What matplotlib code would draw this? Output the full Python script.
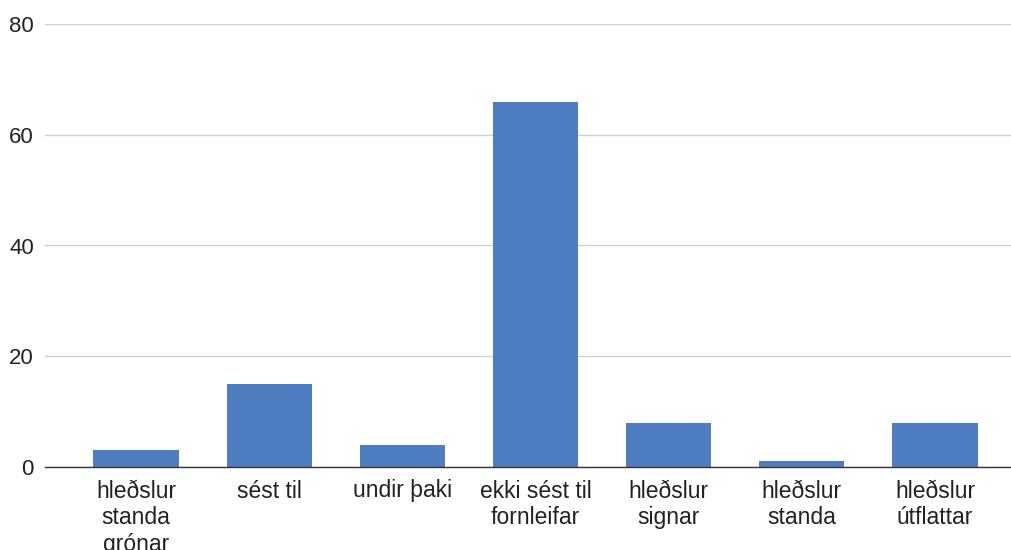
import matplotlib
matplotlib.use("Agg")
import matplotlib.pyplot as plt
import numpy as np

# categories and counts
categories = [
    "hleðslur\nstanda\ngrónar",
    "sést til",
    "undir þaki",
    "ekki sést til\nfornleifar",
    "hleðslur\nsignar",
    "hleðslur\nstanda",
    "hleðslur\nútflattar",
]
counts = [3, 15, 4, 66, 8, 1, 8]
yticks = [0, 20, 40, 60, 80]

plt.rcParams['font.family'] = ['Liberation Sans', 'DejaVu Sans']

fig = plt.figure(figsize=(10.11, 5.5), dpi=100)
ax = fig.add_axes([45 / 1011, 1 - 467 / 550, 966 / 1011, (467 - 24) / 550])

x = np.arange(len(categories))
ax.bar(x, counts, width=0.64, color='#4f7dc2', zorder=3)

ax.set_xlim(-0.683, 6.571)
ax.set_ylim(0, 80)
ax.set_yticks(yticks)
ax.set_yticklabels([str(v) for v in yticks], fontsize=16, color='#222222')
ax.set_xticks(x)
ax.set_xticklabels(categories, fontsize=16.5, color='#222222', linespacing=1.22,
                   va='top')
ax.tick_params(axis='both', length=0)
ax.tick_params(axis='y', pad=8)
ax.tick_params(axis='x', pad=9)

ax.grid(axis='y', color='#d0d0d0', linewidth=1, zorder=0)
for side in ['top', 'right', 'left']:
    ax.spines[side].set_visible(False)
ax.spines['bottom'].set_color('#333333')
ax.spines['bottom'].set_linewidth(1)
ax.spines['bottom'].set_zorder(4)

fig.savefig("out.png", dpi=100)
